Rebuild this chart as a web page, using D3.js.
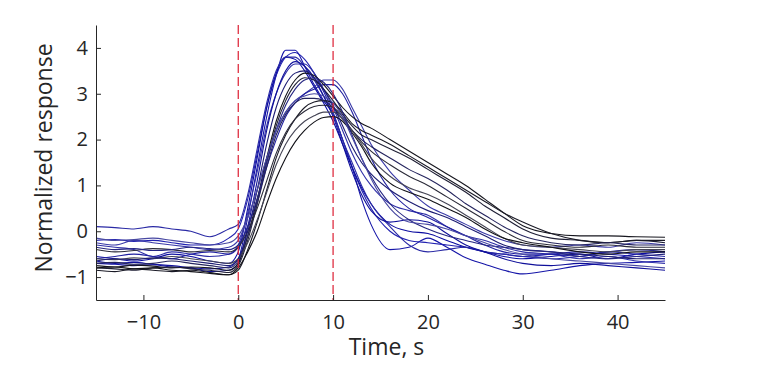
<!DOCTYPE html>
<html>
<head>
<meta charset="utf-8">
<script src="https://cdn.jsdelivr.net/npm/d3@7"></script>
<style>
  body { margin: 0; background: #fff; }
  text { font-family: "Open Sans", "DejaVu Sans", sans-serif; fill: #262626; }
</style>
</head>
<body>
<div id="vis"><svg></svg></div>
<script>
// time samples (s)
var time = [-15,-13,-11,-9,-7,-5,-3,-1, 0,1,2,3,4,5,6,7,8,9,10,11,12,13,14, 16,18,20,22,24,26,28,30, 33,36,39,42,45];

// normalized responses, one array per trace
var resp01 = [-0.7,-0.72,-0.75,-0.73,-0.78,-0.8,-0.82,-0.78, -0.6,0.3,1.4,2.5,3.4,3.95,3.95,3.6,3.2,2.85,2.55,2.0,1.4,0.7,0.15, -0.4,-0.35,-0.15,-0.35,-0.58,-0.72,-0.85,-0.93, -0.85,-0.75,-0.7,-0.68,-0.65];
var resp02 = [-0.2,-0.18,-0.22,-0.2,-0.25,-0.3,-0.3,-0.15, 0.05,0.7,1.7,2.7,3.4,3.8,3.9,3.75,3.45,3.05,2.6,2.0,1.4,0.9,0.5, 0.0,-0.2,-0.25,-0.3,-0.35,-0.45,-0.5,-0.55, -0.5,-0.45,-0.5,-0.55,-0.6];
var resp03 = [-0.55,-0.6,-0.65,-0.6,-0.5,-0.55,-0.65,-0.7, -0.45,0.5,1.6,2.7,3.45,3.8,3.75,3.5,3.15,2.8,2.4,1.9,1.4,0.95,0.6, 0.15,0.0,-0.05,-0.2,-0.35,-0.45,-0.55,-0.6, -0.55,-0.5,-0.6,-0.5,-0.45];
var resp04 = [-0.3,-0.35,-0.4,-0.55,-0.45,-0.5,-0.55,-0.5, -0.3,0.4,1.3,2.3,3.0,3.45,3.65,3.65,3.45,3.1,2.7,2.2,1.7,1.3,1.0, 0.6,0.45,0.35,0.1,-0.1,-0.2,-0.35,-0.45, -0.5,-0.6,-0.55,-0.65,-0.7];
var resp05 = [0.1,0.08,0.05,0.1,0.05,0.0,-0.12,0.05, 0.15,0.8,1.8,2.8,3.5,3.8,3.8,3.6,3.3,2.95,2.55,2.0,1.5,1.0,0.6, 0.1,-0.3,-0.45,-0.4,-0.35,-0.45,-0.5,-0.55, -0.6,-0.55,-0.45,-0.5,-0.55];
var resp06 = [-0.65,-0.7,-0.68,-0.72,-0.75,-0.8,-0.88,-0.85, -0.7,0.1,1.1,2.2,3.0,3.5,3.7,3.6,3.35,2.95,2.5,1.9,1.3,0.8,0.45, 0.2,0.25,0.2,-0.05,-0.3,-0.45,-0.6,-0.7, -0.75,-0.7,-0.75,-0.8,-0.85];
var resp07 = [-0.25,-0.3,-0.2,-0.25,-0.3,-0.35,-0.4,-0.35, -0.2,0.3,0.9,1.6,2.2,2.6,2.85,3.0,3.15,3.3,3.3,3.1,2.7,2.3,1.9, 1.3,0.9,0.55,0.35,0.15,-0.05,-0.2,-0.3, -0.35,-0.3,-0.35,-0.25,-0.3];
var resp08 = [-0.6,-0.55,-0.5,-0.55,-0.6,-0.5,-0.45,-0.5, -0.35,0.1,0.7,1.4,2.0,2.5,2.8,3.0,3.1,3.2,3.2,3.0,2.6,2.1,1.6, 0.9,0.5,0.3,0.1,-0.1,-0.3,-0.45,-0.5, -0.5,-0.55,-0.45,-0.4,-0.45];
var resp09 = [-0.75,-0.78,-0.74,-0.76,-0.8,-0.78,-0.8,-0.85, -0.7,-0.1,0.7,1.6,2.4,2.95,3.3,3.45,3.4,3.2,2.95,2.7,2.5,2.35,2.25, 2.0,1.75,1.5,1.25,1.0,0.7,0.4,0.12, -0.05,-0.1,-0.1,-0.12,-0.13];
var resp10 = [-0.8,-0.82,-0.85,-0.8,-0.78,-0.82,-0.85,-0.9, -0.75,-0.2,0.6,1.5,2.3,2.85,3.2,3.35,3.3,3.1,2.85,2.55,2.3,2.1,2.0, 1.8,1.6,1.35,1.1,0.85,0.55,0.3,0.05, -0.15,-0.2,-0.25,-0.2,-0.25];
var resp11 = [-0.85,-0.88,-0.82,-0.85,-0.88,-0.85,-0.9,-0.95, -0.85,-0.4,0.2,0.9,1.6,2.1,2.45,2.7,2.82,2.85,2.8,2.6,2.35,2.2,2.1, 1.9,1.65,1.4,1.15,0.9,0.65,0.4,0.2, -0.05,-0.2,-0.25,-0.2,-0.2];
var resp12 = [-0.7,-0.68,-0.72,-0.7,-0.65,-0.7,-0.75,-0.8, -0.65,-0.1,0.6,1.4,2.1,2.55,2.8,2.9,2.9,2.85,2.7,2.45,2.2,2.0,1.85, 1.6,1.35,1.15,0.9,0.6,0.35,0.1,-0.1, -0.25,-0.3,-0.25,-0.3,-0.3];
var resp13 = [-0.4,-0.45,-0.42,-0.38,-0.4,-0.45,-0.42,-0.45, -0.35,0.0,0.5,1.1,1.7,2.15,2.45,2.62,2.72,2.75,2.7,2.5,2.2,1.95,1.75, 1.45,1.2,1.0,0.75,0.5,0.25,0.0,-0.2, -0.3,-0.35,-0.3,-0.35,-0.35];
var resp14 = [-0.6,-0.62,-0.58,-0.6,-0.55,-0.6,-0.65,-0.7, -0.6,-0.25,0.25,0.85,1.45,1.9,2.2,2.4,2.52,2.6,2.6,2.45,2.2,1.9,1.6, 1.2,0.95,0.8,0.6,0.35,0.1,-0.15,-0.3, -0.35,-0.4,-0.45,-0.4,-0.4];
var resp15 = [-0.8,-0.78,-0.82,-0.8,-0.85,-0.88,-0.92,-0.95, -0.8,-0.45,0.0,0.6,1.15,1.6,1.95,2.2,2.38,2.48,2.5,2.4,2.15,1.85,1.5, 1.05,0.85,0.7,0.5,0.3,0.05,-0.15,-0.25, -0.35,-0.45,-0.5,-0.45,-0.45];
var resp16 = [-0.65,-0.6,-0.62,-0.58,-0.6,-0.65,-0.7,-0.75, -0.6,0.0,0.9,1.9,2.7,3.2,3.45,3.5,3.35,3.1,2.75,2.3,1.85,1.5,1.25, 0.9,0.65,0.45,0.3,0.1,-0.1,-0.3,-0.4, -0.45,-0.5,-0.55,-0.6,-0.6];
var resp17 = [-0.35,-0.4,-0.38,-0.42,-0.4,-0.35,-0.38,-0.4, -0.3,0.1,0.7,1.5,2.2,2.75,3.1,3.3,3.35,3.25,3.0,2.6,2.1,1.6,1.2, 0.6,0.25,0.05,-0.1,-0.2,-0.3,-0.35,-0.4, -0.45,-0.55,-0.6,-0.55,-0.5];
var resp18 = [-0.15,-0.2,-0.18,-0.15,-0.2,-0.25,-0.3,-0.25, -0.1,0.3,0.9,1.6,2.2,2.6,2.85,2.95,3.0,2.95,2.8,2.5,2.05,1.6,1.15, 0.5,0.2,0.15,0.05,-0.1,-0.25,-0.4,-0.5, -0.6,-0.65,-0.7,-0.75,-0.8];

var xTicks = [-10, 0, 10, 20, 30, 40];
var yTicks = [-1, 0, 1, 2, 3, 4];
var markers = [0, 10];   // stimulus on / off

var allResp = [resp01,resp02,resp03,resp04,resp05,resp06,resp07,resp08,resp09,
               resp10,resp11,resp12,resp13,resp14,resp15,resp16,resp17,resp18];
var lineColors = ["#1515a8","#2222b0","#0c0ca0","#3030a8","#2a2aa5","#10109a","#3a3aa8","#2020a0","#16161e",
                  "#1f1f35","#1a1a26","#25255e","#2a2a38","#454555","#121218","#1c1c72","#262682","#4848a2"];

var margin = {top: 25, right: 99, bottom: 76, left: 96},
    width = 764 - margin.left - margin.right,
    height = 376 - margin.top - margin.bottom;

var svg = d3.select("#vis").select("svg")
    .attr("width", width + margin.left + margin.right)
    .attr("height", height + margin.top + margin.bottom)
  .append("g")
    .attr("transform", "translate(" + margin.left + "," + margin.top + ")");

var x = d3.scaleLinear().domain([-15, 45]).range([0, width]);
var y = d3.scaleLinear().domain([-1.5, 4.5]).range([height, 0]);

var dataReady = allResp.map(function(vals, i) {
  return {
    name: "trace" + (i + 1),
    color: lineColors[i],
    values: time.map(function(t, j) { return {time: t, value: vals[j]}; })
  };
});

var line = d3.line()
  .curve(d3.curveMonotoneX)
  .x(function(d) { return x(d.time); })
  .y(function(d) { return y(d.value); });

svg.selectAll("myLines")
  .data(dataReady)
  .enter()
  .append("path")
    .attr("d", function(d) { return line(d.values); })
    .attr("stroke", function(d) { return d.color; })
    .attr("stroke-width", 1.1)
    .attr("fill", "none");

// dashed markers
svg.selectAll("myMarks")
  .data(markers)
  .enter()
  .append("line")
    .attr("x1", function(d) { return x(d); })
    .attr("x2", function(d) { return x(d); })
    .attr("y1", 0)
    .attr("y2", height)
    .attr("stroke", "#dc1e32")
    .attr("stroke-width", 1.2)
    .attr("stroke-dasharray", "9,4");

// axes, ticks pointing inward
var fmt = d3.format("d");

var xAxis = svg.append("g")
  .attr("transform", "translate(0," + height + ")")
  .call(d3.axisBottom(x).tickValues(xTicks).tickFormat(fmt).tickSizeInner(-5).tickSizeOuter(0).tickPadding(15));

var yAxis = svg.append("g")
  .call(d3.axisLeft(y).tickValues(yTicks).tickFormat(fmt).tickSizeInner(-5).tickSizeOuter(0).tickPadding(8));

[xAxis, yAxis].forEach(function(a) {
  a.select(".domain").attr("stroke", "#262626");
  a.selectAll(".tick line").attr("stroke", "#262626");
  a.selectAll(".tick text")
    .style("font-size", "20px")
    .style("font-family", "'Open Sans', sans-serif")
    .attr("fill", "#262626");
});

svg.append("text")
  .attr("x", width / 2 + 6)
  .attr("y", height + 55)
  .attr("text-anchor", "middle")
  .style("font-size", "23px")
  .text("Time, s");

svg.append("text")
  .attr("transform", "translate(" + (52 - margin.left) + "," + (158 - margin.top) + ") rotate(-90)")
  .attr("text-anchor", "middle")
  .style("font-size", "23px")
  .text("Normalized response");
</script>
</body>
</html>
